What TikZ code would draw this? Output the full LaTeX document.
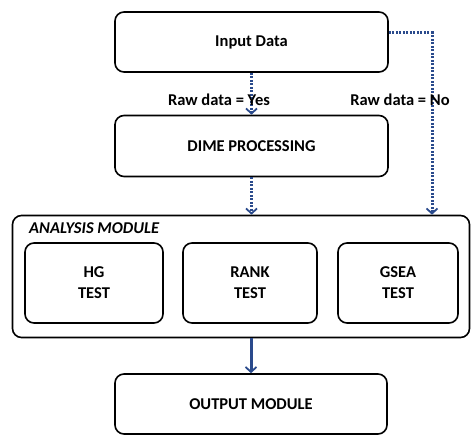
\documentclass[tikz,border=0pt]{standalone}
\usepackage{fontspec}
\setmainfont{Carlito}
\usetikzlibrary{arrows.meta}
\definecolor{navy}{HTML}{2A4A8C}
\tikzset{
  box/.style={draw=black, line width=1.6pt, rounded corners=9pt, align=center, font=\fontsize{16.5}{21}\selectfont\bfseries, inner sep=0pt},
  dotarrow/.style={draw=navy, line width=3pt, dash pattern=on 2pt off 1.5pt, -{Straight Barb[length=5pt,width=11pt,line width=1.8pt]}},
  solidarrow/.style={draw=navy, line width=3pt, -{Straight Barb[length=5pt,width=11pt,line width=1.8pt]}},
  lbl/.style={font=\fontsize{16.5}{20}\selectfont\bfseries, inner sep=0pt}
}
\begin{document}
\begin{tikzpicture}[x=1pt,y=-1pt]
\useasboundingbox (0,0) rectangle (472,436);
\node[box, minimum width=273pt, minimum height=60pt] (input) at (251.5,42) {Input Data};
\node[box, minimum width=273pt, minimum height=61pt] (dime) at (251.5,146) {DIME PROCESSING};
\node[box, minimum width=457pt, minimum height=122pt] (analysis) at (241,276.5) {};
\node[lbl, font=\fontsize{16.5}{20}\selectfont\bfseries\itshape, anchor=west] (alabel) at (29,228) {ANALYSIS MODULE};
\node[box, minimum width=138pt, minimum height=80pt] (hg) at (94,283) {HG\\TEST};
\node[box, minimum width=134pt, minimum height=80pt] (rank) at (250,283) {RANK\\TEST};
\node[box, minimum width=120pt, minimum height=80pt] (gsea) at (398,283) {GSEA\\TEST};
\node[box, minimum width=272pt, minimum height=60pt] (output) at (251,404) {OUTPUT MODULE};
\coordinate (c1) at (432,33);
\draw[dotarrow] (input.south) -- (dime.north);
\draw[dotarrow] (dime.south) -- (dime.south |- analysis.north);
\draw[dotarrow] (input.east |- c1) -- (c1) -- (c1 |- analysis.north);
\draw[solidarrow] (output.north |- analysis.south) -- (output.north);
\node[lbl] (yes) at (219,100) {Raw data = Yes};
\node[lbl] (no) at (400,100) {Raw data = No};
\end{tikzpicture}
\end{document}
